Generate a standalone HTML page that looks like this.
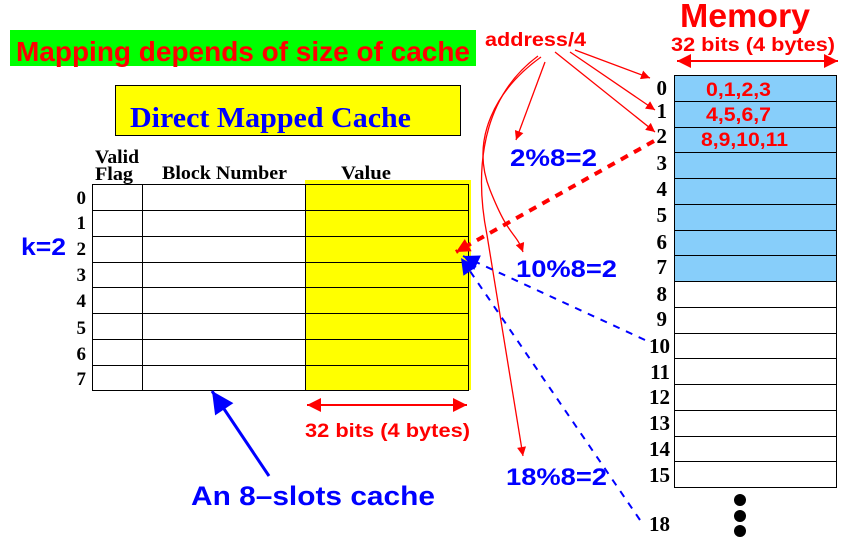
<!DOCTYPE html>
<html><head><style>
html,body{margin:0;padding:0;background:#fff;}
svg{display:block;}
.t{font-family:"Liberation Sans",sans-serif;font-weight:bold;}
.s{font-family:"Liberation Serif",serif;font-weight:bold;}
</style></head><body>
<svg width="842" height="537" viewBox="0 0 842 537" xmlns="http://www.w3.org/2000/svg">
<defs>
<marker id="ar" viewBox="0 0 10 10" refX="10" refY="5" markerWidth="14" markerHeight="9" markerUnits="userSpaceOnUse" orient="auto"><path d="M0,0 L10,5 L0,10 z" fill="#f00"/></marker>
<marker id="arL" viewBox="0 0 10 10" refX="10" refY="5" markerWidth="26" markerHeight="14" markerUnits="userSpaceOnUse" orient="auto-start-reverse"><path d="M0,0 L10,5 L0,10 z" fill="#f00"/></marker>
<marker id="ab" viewBox="0 0 10 10" refX="10" refY="5" markerWidth="26" markerHeight="16" markerUnits="userSpaceOnUse" orient="auto"><path d="M0,0 L10,5 L0,10 z" fill="#00f"/></marker>
<marker id="ab2" viewBox="0 0 10 10" refX="10" refY="5" markerWidth="32" markerHeight="22" markerUnits="userSpaceOnUse" orient="auto"><path d="M0,0 L10,5 L0,10 z" fill="#00f"/></marker>
</defs>
<rect x="10" y="30" width="466" height="36" fill="#00ff00"/>
<text x="16" y="61" class="t" font-size="28" fill="#f00" textLength="454" lengthAdjust="spacingAndGlyphs">Mapping depends of size of cache</text>
<rect x="115.5" y="85.5" width="345" height="50" fill="#ff0" stroke="#000" stroke-width="1"/>
<text x="130" y="127" class="s" font-size="28" fill="#00f" textLength="281" lengthAdjust="spacingAndGlyphs">Direct Mapped Cache</text>
<rect x="305" y="180" width="166" height="210" fill="#ff0"/>
<g stroke="#000" stroke-width="1" fill="none">
<rect x="92.5" y="184.5" width="376" height="206"/>
<line x1="142.5" y1="184" x2="142.5" y2="390"/>
<line x1="305.5" y1="184" x2="305.5" y2="390"/>
<line x1="92" y1="210.5" x2="469" y2="210.5"/>
<line x1="92" y1="236.5" x2="469" y2="236.5"/>
<line x1="92" y1="262.5" x2="469" y2="262.5"/>
<line x1="92" y1="287.5" x2="469" y2="287.5"/>
<line x1="92" y1="313.5" x2="469" y2="313.5"/>
<line x1="92" y1="339.5" x2="469" y2="339.5"/>
<line x1="92" y1="365.5" x2="469" y2="365.5"/>
</g>
<g class="s" font-size="19" fill="#000">
<text x="95" y="163" textLength="44" lengthAdjust="spacingAndGlyphs">Valid</text><text x="95" y="180" textLength="38" lengthAdjust="spacingAndGlyphs">Flag</text>
<text x="162" y="179" textLength="125" lengthAdjust="spacingAndGlyphs">Block Number</text>
<text x="341" y="179" textLength="50" lengthAdjust="spacingAndGlyphs">Value</text>
</g>
<g class="s" font-size="19" fill="#000" text-anchor="end">
<text x="86" y="204">0</text><text x="86" y="229">1</text><text x="86" y="255">2</text><text x="86" y="281">3</text>
<text x="86" y="307">4</text><text x="86" y="334">5</text><text x="86" y="360">6</text><text x="86" y="385">7</text>
</g>
<text x="21" y="255" class="t" font-size="24" fill="#00f" textLength="45" lengthAdjust="spacingAndGlyphs">k=2</text>
<line x1="307" y1="405" x2="467" y2="405" stroke="#f00" stroke-width="2" marker-end="url(#arL)" marker-start="url(#arL)"/>
<text x="305" y="437" class="t" font-size="19" fill="#f00" textLength="165" lengthAdjust="spacingAndGlyphs">32 bits (4 bytes)</text>
<line x1="269" y1="476" x2="212" y2="391" stroke="#00f" stroke-width="3" marker-end="url(#ab2)"/>
<text x="191" y="505" class="t" font-size="27" fill="#00f" textLength="244" lengthAdjust="spacingAndGlyphs">An 8–slots cache</text>
<text x="680" y="27" class="t" font-size="33" fill="#f00" textLength="130" lengthAdjust="spacingAndGlyphs">Memory</text>
<text x="671" y="51" class="t" font-size="19" fill="#f00" textLength="164" lengthAdjust="spacingAndGlyphs">32 bits (4 bytes)</text>
<line x1="677" y1="61" x2="838" y2="61" stroke="#f00" stroke-width="2" marker-end="url(#arL)" marker-start="url(#arL)"/>
<rect x="674" y="75" width="163" height="206" fill="#87cefa"/>
<g stroke="#000" stroke-width="1" fill="none">
<rect x="674.5" y="75.5" width="162" height="412"/>
<line x1="674" y1="101.5" x2="837" y2="101.5"/><line x1="674" y1="127.5" x2="837" y2="127.5"/>
<line x1="674" y1="152.5" x2="837" y2="152.5"/><line x1="674" y1="178.5" x2="837" y2="178.5"/>
<line x1="674" y1="204.5" x2="837" y2="204.5"/><line x1="674" y1="230.5" x2="837" y2="230.5"/>
<line x1="674" y1="255.5" x2="837" y2="255.5"/><line x1="674" y1="281.5" x2="837" y2="281.5"/>
<line x1="674" y1="307.5" x2="837" y2="307.5"/><line x1="674" y1="333.5" x2="837" y2="333.5"/>
<line x1="674" y1="358.5" x2="837" y2="358.5"/><line x1="674" y1="384.5" x2="837" y2="384.5"/>
<line x1="674" y1="410.5" x2="837" y2="410.5"/><line x1="674" y1="436.5" x2="837" y2="436.5"/>
<line x1="674" y1="461.5" x2="837" y2="461.5"/>
</g>
<g class="t" font-size="19" fill="#f00">
<text x="706" y="96" textLength="65" lengthAdjust="spacingAndGlyphs">0,1,2,3</text><text x="706" y="121" textLength="65" lengthAdjust="spacingAndGlyphs">4,5,6,7</text><text x="701" y="146" textLength="87" lengthAdjust="spacingAndGlyphs">8,9,10,11</text>
</g>
<g class="s" font-size="21" fill="#000" text-anchor="end">
<text x="667" y="95">0</text><text x="667" y="118">1</text><text x="667" y="143">2</text><text x="667" y="170">3</text>
<text x="667" y="196">4</text><text x="667" y="222">5</text><text x="667" y="249">6</text><text x="667" y="274">7</text>
<text x="667" y="301">8</text><text x="667" y="326">9</text><text x="670" y="353">10</text><text x="670" y="379">11</text>
<text x="670" y="404">12</text><text x="670" y="430">13</text><text x="670" y="456">14</text><text x="670" y="482">15</text>
<text x="670" y="531">18</text>
</g>
<circle cx="740" cy="500" r="6"/><circle cx="740" cy="516" r="6"/><circle cx="740" cy="531" r="6"/>
<text x="485" y="46" class="t" font-size="19" fill="#f00" textLength="101" lengthAdjust="spacingAndGlyphs">address/4</text>
<g stroke="#f00" stroke-width="1.3" fill="none">
<line x1="575" y1="50" x2="650" y2="78" marker-end="url(#ar)"/>
<line x1="570" y1="52" x2="655" y2="110" marker-end="url(#ar)"/>
<line x1="555" y1="52" x2="655" y2="132" marker-end="url(#ar)"/>
<line x1="545" y1="62" x2="516" y2="140" marker-end="url(#ar)"/>
<path d="M541,57 C495,90 470,140 490,190 S515,230 523,252" marker-end="url(#ar)"/>
<path d="M538,56 C472,105 478,190 487,235 L523,456" marker-end="url(#ar)"/>
</g>
<text x="510" y="166" class="t" font-size="24" fill="#00f" textLength="87" lengthAdjust="spacingAndGlyphs">2%8=2</text>
<text x="516" y="277" class="t" font-size="24" fill="#00f" textLength="101" lengthAdjust="spacingAndGlyphs">10%8=2</text>
<text x="506" y="485" class="t" font-size="24" fill="#00f" textLength="101" lengthAdjust="spacingAndGlyphs">18%8=2</text>
<line x1="654" y1="141" x2="456" y2="252" stroke="#f00" stroke-width="4" stroke-dasharray="8,7" marker-end="url(#arL)"/>
<line x1="645" y1="340" x2="463" y2="256" stroke="#00f" stroke-width="2" stroke-dasharray="7,7" marker-end="url(#ab)"/>
<line x1="640" y1="520" x2="461" y2="258" stroke="#00f" stroke-width="2" stroke-dasharray="7,7" marker-end="url(#ab)"/>
</svg>
</body></html>
